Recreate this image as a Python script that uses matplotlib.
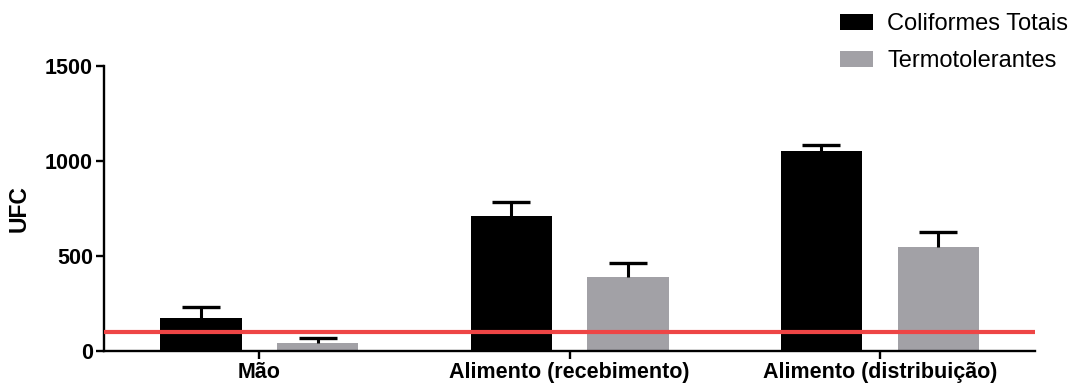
import numpy as np
from matplotlib import pyplot as plt

plt.rcParams['font.family'] = ['Liberation Sans', 'DejaVu Sans']

# sample sources and counts (mean and upper error)
categories = ["Mão", "Alimento (recebimento)", "Alimento (distribuição)"]
series_names = ["Coliformes Totais", "Termotolerantes"]
totais = [175, 710, 1055]
totais_err = [57, 75, 28]
termo = [42, 390, 548]
termo_err = [26, 75, 79]
limite = 100
yticks = [0, 500, 1000, 1500]

BLACK = "#000000"
GRAY = "#A2A1A6"
RED = "#EE4545"

fig = plt.figure(figsize=(10.85, 3.9), dpi=100)
ax = fig.add_axes([0.0959, 0.1, 0.8580, 0.7308])

x = np.arange(len(categories))
w = 0.262
off = 0.188

for xs, vals, errs, col, name in [(x - off, totais, totais_err, BLACK, series_names[0]),
                                  (x + off, termo, termo_err, GRAY, series_names[1])]:
    ax.bar(xs, vals, w, color=col, label=name, zorder=2)
    # upward-only error bars, lower cap hidden
    eb = ax.errorbar(xs, vals, yerr=[np.zeros(len(vals)), errs], fmt="none",
                     ecolor="black", elinewidth=2.2, capsize=13.5, capthick=2.4,
                     zorder=2)
    eb[1][0].set_visible(False)

ax.axhline(limite, color=RED, lw=3.0, zorder=3)

ax.set_xlim(-0.5, 2.5)
ax.set_ylim(0, 1500)
ax.set_xticks(x)
ax.set_xticklabels(categories, fontsize=15.5, fontweight="bold")
ax.set_yticks(yticks)
ax.set_yticklabels([str(v) for v in yticks], fontsize=15.5, fontweight="bold")
ax.set_ylabel("UFC", fontsize=16.5, fontweight="bold", labelpad=10)

for s in ["top", "right"]:
    ax.spines[s].set_visible(False)
for s in ["left", "bottom"]:
    ax.spines[s].set_linewidth(1.7)
ax.tick_params(axis="both", width=1.7, length=6, pad=2)

ax.legend(loc="upper right", bbox_to_anchor=(1.0, 1.008),
          bbox_transform=fig.transFigure, frameon=False, fontsize=17,
          handlelength=1.4, handleheight=0.65, handletextpad=0.6,
          labelspacing=0.62, borderpad=0.2)

fig.savefig("out.png", dpi=100)
